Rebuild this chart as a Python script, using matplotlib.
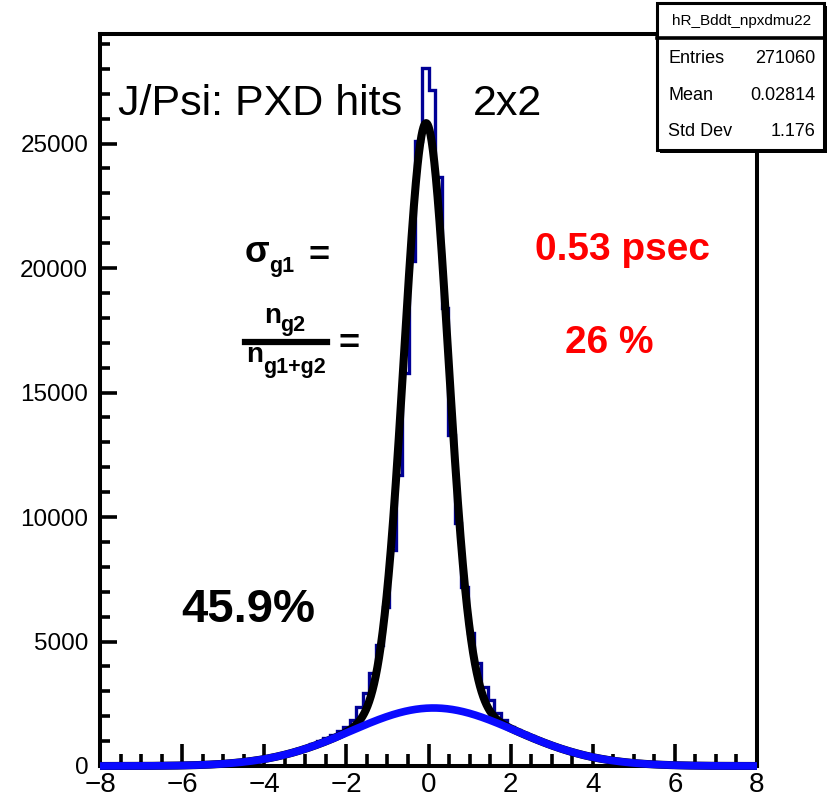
import matplotlib
matplotlib.use('Agg')
import matplotlib.pyplot as plt
import numpy as np
from matplotlib.patches import Rectangle
from matplotlib.lines import Line2D
from matplotlib.ticker import MultipleLocator

plt.rcParams['font.family'] = ['Liberation Sans', 'DejaVu Sans']

# ---------------- data ----------------
x_min, x_max, n_bins = -8.0, 8.0, 100
counts = [
    1, 1, 2, 3, 3, 5, 6, 8, 10, 13,
    17, 21, 27, 34, 42, 52, 64, 79, 96, 117,
    141, 170, 203, 240, 284, 333, 389, 450, 522, 598,
    684, 777, 878, 990, 1108, 1236, 1390, 1570, 1850, 2370,
    2930, 3730, 4860, 6380, 8670, 11680, 15770, 20300, 25120, 28050,
    27150, 23650, 18380, 13280, 9750, 7180, 5340, 4130, 3170, 2650,
    2130, 1850, 1570, 1440, 1320, 1200, 1080, 965, 860, 760,
    670, 588, 512, 443, 382, 326, 277, 234, 196, 164,
    136, 112, 91, 74, 60, 48, 38, 30, 24, 19,
    15, 11, 9, 7, 5, 4, 3, 2, 2, 1,
]
# double-gaussian fit parameters
g1_amp, g1_mean, g1_sigma = 23500.0, -0.06, 0.54
g2_amp, g2_mean, g2_sigma = 2330.0, 0.12, 2.0

y_max = 29400
x_ticks = [-8, -6, -4, -2, 0, 2, 4, 6, 8]
y_ticks = [0, 5000, 10000, 15000, 20000, 25000]

stats_title = "hR_Bddt_npxdmu22"
stats_rows = [("Entries", "271060"), ("Mean", "0.02814"), ("Std Dev", "1.176")]

title_left = "J/Psi: PXD hits"
title_right = "2x2"
sigma_value = "0.53 psec"
frac_value = "26 %"
eff_value = "45.9%"

# ---------------- figure ----------------
W, H = 832, 799
fig = plt.figure(figsize=(W / 100, H / 100), dpi=100)

def fx(px):
    return px / W

def fy(py):
    return 1 - py / H

ax = fig.add_axes([fx(100), fy(766), fx(757) - fx(100), fy(34) - fy(766)])

edges = np.linspace(x_min, x_max, n_bins + 1)
ax.stairs(counts, edges, color='#000096', lw=2.4, zorder=3, baseline=None)

xs = np.linspace(x_min, x_max, 2000)
g1 = g1_amp * np.exp(-0.5 * ((xs - g1_mean) / g1_sigma) ** 2)
g2 = g2_amp * np.exp(-0.5 * ((xs - g2_mean) / g2_sigma) ** 2)
ax.plot(xs, g1 + g2, color='black', lw=5.8, zorder=4, clip_on=False,
        solid_capstyle='butt')
ax.plot(xs, g2, color='#0a0aff', lw=5.5, zorder=5, clip_on=False,
        solid_capstyle='butt')

ax.set_xlim(x_min, x_max)
ax.set_ylim(0, y_max)
ax.set_xticks(x_ticks)
ax.set_yticks(y_ticks)
ax.set_xticklabels([str(t) if t >= 0 else '\u2212' + str(-t) for t in x_ticks])
ax.set_yticklabels([str(t) for t in y_ticks])
ax.xaxis.set_minor_locator(MultipleLocator(0.5))
ax.yaxis.set_minor_locator(MultipleLocator(1000))
ax.set_axisbelow(False)

for s in ax.spines.values():
    s.set_linewidth(2.9)
    s.set_zorder(2.6)

ax.tick_params(axis='x', which='major', direction='in', length=16, width=2.6,
               labelsize=20, pad=4.5, top=False)
ax.tick_params(axis='x', which='minor', direction='in', length=9, width=2.6,
               top=False)
ax.tick_params(axis='y', which='major', direction='in', length=12.5, width=2.6,
               labelsize=17.5, pad=8.5, right=False)
ax.tick_params(axis='y', which='minor', direction='in', length=7, width=2.6,
               right=False)

# ---------------- annotations ----------------
fig.text(fx(118), fy(115), title_left, fontsize=31, ha='left', va='baseline')
fig.text(fx(473), fy(115), title_right, fontsize=31, ha='left', va='baseline')

# sigma_g1 =
fig.text(fx(245), fy(262), '\u03c3', fontsize=26, fontweight='bold', ha='left', va='baseline')
fig.text(fx(269), fy(272), 'g1', fontsize=15.5, fontweight='bold', ha='left', va='baseline')
fig.text(fx(308), fy(266), '=', fontsize=26, fontweight='bold', ha='left', va='baseline')

# n_g2 / n_g1+g2 =
fig.text(fx(264), fy(323), 'n', fontsize=20, fontweight='bold', ha='left', va='baseline')
fig.text(fx(280), fy(331), 'g2', fontsize=15.5, fontweight='bold', ha='left', va='baseline')
fig.add_artist(Line2D([fx(245), fx(327)], [fy(341.5), fy(341.5)], color='black',
                      lw=4.5, transform=fig.transFigure))
fig.text(fx(246), fy(362), 'n', fontsize=20, fontweight='bold', ha='left', va='baseline')
fig.text(fx(263), fy(373), 'g1+g2', fontsize=15.5, fontweight='bold', ha='left', va='baseline')
fig.text(fx(339), fy(354), '=', fontsize=26, fontweight='bold', ha='left', va='baseline')

fig.text(fx(535), fy(260), sigma_value, fontsize=28, fontweight='bold',
         color='#ff0000', ha='left', va='baseline')
fig.text(fx(565), fy(353), frac_value, fontsize=28, fontweight='bold',
         color='#ff0000', ha='left', va='baseline')
fig.text(fx(181), fy(622), eff_value, fontsize=34, fontweight='bold',
         ha='left', va='baseline')

# ---------------- stats box ----------------
bx0, bx1, by0, by1 = 657, 824, 3, 150
fig.add_artist(Rectangle((fx(bx0 + 3), fy(by1 + 3)), fx(bx1) - fx(bx0), fy(by0) - fy(by1),
                         transform=fig.transFigure, facecolor='black', edgecolor='black',
                         lw=0, zorder=10))
fig.add_artist(Rectangle((fx(bx0), fy(by1)), fx(bx1) - fx(bx0), fy(by0) - fy(by1),
                         transform=fig.transFigure, facecolor='white', edgecolor='black',
                         lw=2.2, zorder=11))
fig.add_artist(Line2D([fx(bx0), fx(bx1)], [fy(37.5), fy(37.5)], color='black', lw=2.6,
                      transform=fig.transFigure, zorder=12))
fig.text(fx((bx0 + bx1) / 2 + 1), fy(25), stats_title, fontsize=11, ha='center',
         va='baseline', zorder=13)
row_base = [63, 100, 136]
for (lab, val), yb in zip(stats_rows, row_base):
    fig.text(fx(668), fy(yb), lab, fontsize=13, ha='left', va='baseline', zorder=13)
    fig.text(fx(815), fy(yb), val, fontsize=13, ha='right', va='baseline', zorder=13)

fig.savefig('out.png', dpi=100)
